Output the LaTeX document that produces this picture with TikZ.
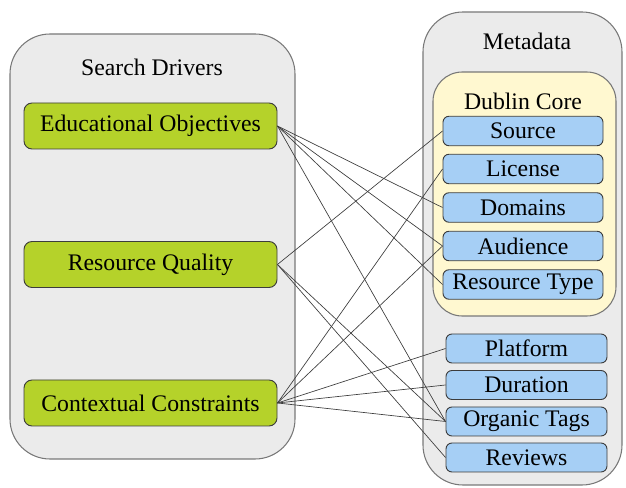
\documentclass[tikz,border=0pt]{standalone}
\usepackage{fontspec}
\setmainfont{Liberation Serif}
\definecolor{contfill}{RGB}{235,235,235}
\definecolor{contdraw}{RGB}{120,120,120}
\definecolor{greenfill}{RGB}{181,210,42}
\definecolor{yellowfill}{RGB}{255,248,208}
\definecolor{bluefill}{RGB}{166,207,245}
\definecolor{boxdraw}{RGB}{60,60,60}
\definecolor{linkcol}{RGB}{60,60,60}
\begin{document}
\begin{tikzpicture}[x=0.75pt,y=-0.75pt,
  every node/.style={font=\fontsize{17.8}{20}\selectfont, inner sep=0pt, text=black},
  container/.style={draw=contdraw, fill=contfill, line width=0.8pt, rounded corners=30pt},
  dcbox/.style={draw=contdraw, fill=yellowfill, line width=0.8pt, rounded corners=22pt,
    minimum width=137.25pt, minimum height=183pt},
  driver/.style={draw=boxdraw, fill=greenfill, line width=0.7pt, rounded corners=6pt,
    minimum width=189.75pt, minimum height=34.5pt},
  meta/.style={draw=boxdraw, fill=bluefill, line width=0.7pt, rounded corners=4.5pt,
    minimum width=120pt, minimum height=22.1pt},
  metalow/.style={meta, minimum width=120.75pt, minimum height=21.75pt},
  link/.style={draw=linkcol, line width=0.5pt}
]
\useasboundingbox (0,0) rectangle (626,488);
% containers
\node[container, minimum width=213.75pt, minimum height=318.75pt] (left) at (152.5,246.5) {};
\node[container, minimum width=149.25pt, minimum height=354.75pt] (right) at (522.5,248.5) {};
\node (lefttitle) at (152,67) {Search Drivers};
\node (righttitle) at (527,41) {Metadata};
\node[dcbox] (dc) at (524.5,194) {};
\node (dctitle) at (523,101) {Dublin Core};
% drivers
\node[driver] (eo) at (150.5,126) {Educational Objectives};
\node[driver] (rq) at (150.5,264.5) {Resource Quality};
\node[driver] (cc) at (150.5,403) {Contextual Constraints};
% metadata
\node[meta] (src) at (523,131) {Source};
\node[meta] (lic) at (523,169) {License};
\node[meta] (dom) at (523,207.5) {Domains};
\node[meta] (aud) at (523,246) {Audience};
\node[meta] (rt) at (523,284.5) {Resource Type};
\node[metalow] (plat) at (526.5,348.5) {Platform};
\node[metalow] (dur) at (526.5,385) {Duration};
\node[metalow] (ot) at (526.5,421.5) {Organic Tags};
\node[metalow] (rev) at (526.5,457.5) {Reviews};
% links
\draw[link] (eo.east) -- (dom.west);
\draw[link] (eo.east) -- (aud.west);
\draw[link] (eo.east) -- (rt.west);
\draw[link] (eo.east) -- (ot.west);
\draw[link] (rq.east) -- (src.west);
\draw[link] (rq.east) -- (ot.west);
\draw[link] (rq.east) -- (rev.west);
\draw[link] (cc.east) -- (lic.west);
\draw[link] (cc.east) -- (aud.west);
\draw[link] (cc.east) -- (plat.west);
\draw[link] (cc.east) -- (dur.west);
\draw[link] (cc.east) -- (ot.west);
\end{tikzpicture}
\end{document}
